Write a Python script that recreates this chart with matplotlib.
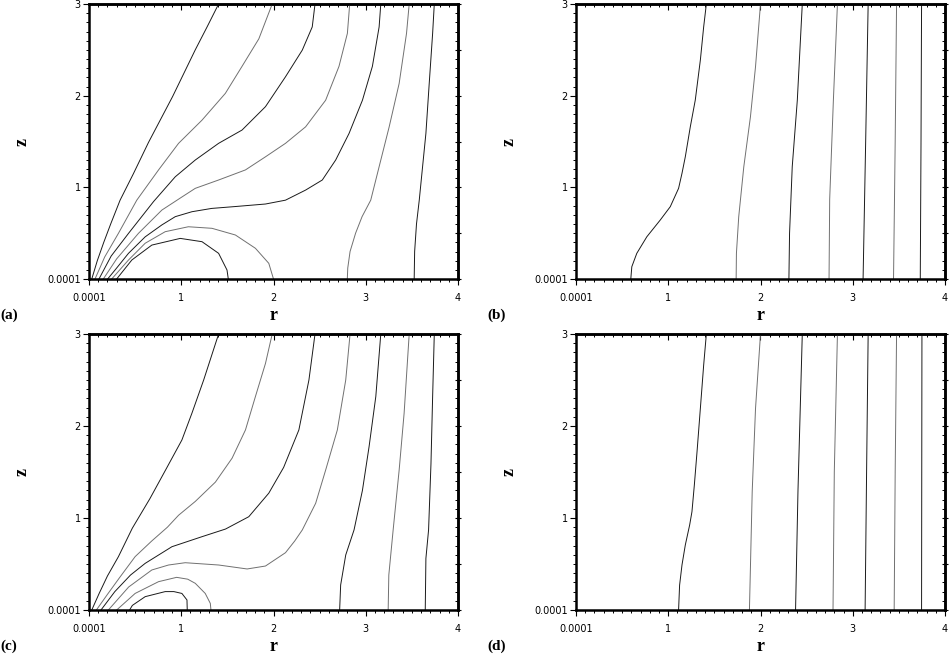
import matplotlib
matplotlib.use('Agg')
import matplotlib.pyplot as plt
from matplotlib.ticker import MultipleLocator, FuncFormatter

# ---- contour lines (r, z) ----
# panel (a)
a_r = [
    [0.03, 0.09, 0.16, 0.235, 0.337, 0.482, 0.645, 0.906, 1.152, 1.28, 1.405],
    [0.065, 0.17, 0.32, 0.518, 0.754, 0.971, 1.225, 1.478, 1.659, 1.841, 1.986],
    [0.108, 0.24, 0.43, 0.70, 0.935, 1.152, 1.405, 1.659, 1.913, 2.13, 2.312, 2.42, 2.45],
    [0.155, 0.30, 0.536, 0.79, 1.0, 1.152, 1.405, 1.696, 1.913, 2.13, 2.348, 2.565, 2.71, 2.801, 2.826],
    [0.202, 0.30, 0.428, 0.609, 0.79, 0.935, 1.116, 1.33, 1.58, 1.913, 2.13, 2.348, 2.529, 2.674,
     2.819, 2.964, 3.072, 3.145, 3.163],
    [2.80, 2.805, 2.83, 2.89, 2.96, 3.054, 3.145, 3.254, 3.362, 3.442, 3.471],
    [3.525, 3.53, 3.55, 3.58, 3.616, 3.652, 3.688, 3.725, 3.743],
    [0.246, 0.428, 0.609, 0.826, 1.077, 1.333, 1.587, 1.804, 1.949, 2.0],
    [0.30, 0.464, 0.681, 0.989, 1.225, 1.405, 1.496, 1.51],
]
a_z = [
    [0.0, 0.2, 0.4, 0.6, 0.86, 1.15, 1.49, 1.99, 2.5, 2.75, 3.0],
    [0.0, 0.24, 0.5, 0.86, 1.19, 1.48, 1.733, 2.025, 2.32, 2.62, 3.0],
    [0.0, 0.25, 0.5, 0.845, 1.115, 1.298, 1.48, 1.625, 1.88, 2.206, 2.497, 2.75, 3.0],
    [0.0, 0.22, 0.498, 0.752, 0.89, 0.989, 1.08, 1.19, 1.333, 1.48, 1.66, 1.95, 2.32, 2.68, 3.0],
    [0.0, 0.12, 0.28, 0.46, 0.59, 0.68, 0.734, 0.77, 0.79, 0.818, 0.86, 0.97, 1.08, 1.298,
     1.588, 1.95, 2.32, 2.75, 3.0],
    [0.0, 0.12, 0.3, 0.5, 0.68, 0.86, 1.225, 1.66, 2.133, 2.68, 3.0],
    [0.0, 0.3, 0.6, 0.86, 1.225, 1.588, 2.133, 2.68, 3.0],
    [0.0, 0.207, 0.39, 0.516, 0.57, 0.553, 0.48, 0.335, 0.171, 0.0],
    [0.0, 0.207, 0.37, 0.443, 0.407, 0.28, 0.098, 0.0],
]

# panel (b)
b_r = [
    [0.594, 0.605, 0.659, 0.768, 0.913, 1.022, 1.112, 1.149, 1.185, 1.239, 1.293, 1.348, 1.384, 1.413],
    [1.736, 1.739, 1.764, 1.819, 1.891, 1.946, 2.0],
    [2.308, 2.315, 2.344, 2.399, 2.453],
    [2.743, 2.75, 2.79, 2.834],
    [3.112, 3.14, 3.167],
    [3.442, 3.46, 3.475],
    [3.732, 3.74, 3.746],
]
b_z = [
    [0.0, 0.134, 0.28, 0.461, 0.643, 0.789, 0.989, 1.153, 1.334, 1.66, 1.952, 2.388, 2.751, 3.0],
    [0.0, 0.28, 0.68, 1.225, 1.77, 2.316, 3.0],
    [0.0, 0.5, 1.225, 1.95, 3.0],
    [0.0, 0.87, 1.95, 3.0],
    [0.0, 1.5, 3.0],
    [0.0, 1.5, 3.0],
    [0.0, 1.5, 3.0],
]

# panel (c)
c_r = [
    [0.03, 0.11, 0.20, 0.319, 0.47, 0.66, 0.84, 1.007, 1.116, 1.243, 1.405],
    [0.08, 0.2, 0.33, 0.5, 0.68, 0.85, 0.971, 1.152, 1.37, 1.551, 1.696, 1.804, 1.913, 1.986],
    [0.13, 0.28, 0.45, 0.609, 0.899, 1.225, 1.48, 1.732, 1.949, 2.11, 2.275, 2.384, 2.45],
    [0.21, 0.43, 0.681, 0.862, 1.043, 1.406, 1.714, 1.913, 2.13, 2.23, 2.312, 2.457, 2.565,
     2.692, 2.783, 2.83],
    [2.717, 2.728, 2.783, 2.873, 2.964, 3.036, 3.109, 3.163],
    [3.243, 3.25, 3.297, 3.362, 3.416, 3.471],
    [3.645, 3.652, 3.681, 3.707, 3.725, 3.743],
    [0.30, 0.5, 0.754, 0.95, 1.07, 1.152, 1.26, 1.315, 1.322],
    [0.44, 0.47, 0.609, 0.826, 0.92, 1.007, 1.062, 1.065],
]
c_z = [
    [0.0, 0.18, 0.37, 0.58, 0.89, 1.21, 1.54, 1.848, 2.14, 2.5, 3.0],
    [0.0, 0.17, 0.35, 0.58, 0.75, 0.9, 1.03, 1.18, 1.39, 1.65, 1.957, 2.32, 2.68, 3.0],
    [0.0, 0.2, 0.38, 0.507, 0.688, 0.797, 0.88, 1.014, 1.27, 1.55, 1.957, 2.5, 3.0],
    [0.0, 0.25, 0.435, 0.489, 0.514, 0.489, 0.446, 0.478, 0.623, 0.75, 0.87, 1.16, 1.52,
     1.957, 2.5, 3.0],
    [0.0, 0.272, 0.598, 0.87, 1.30, 1.775, 2.32, 3.0],
    [0.0, 0.38, 0.87, 1.52, 2.14, 3.0],
    [0.0, 0.56, 0.87, 1.59, 2.32, 3.0],
    [0.0, 0.18, 0.308, 0.355, 0.335, 0.29, 0.18, 0.072, 0.0],
    [0.0, 0.05, 0.145, 0.2, 0.2, 0.18, 0.109, 0.0],
]

# panel (d)
d_r = [
    [1.112, 1.123, 1.149, 1.185, 1.232, 1.257, 1.283, 1.312, 1.348, 1.384, 1.413],
    [1.88, 1.91, 1.946, 2.0],
    [2.38, 2.406, 2.453],
    [2.786, 2.80, 2.834],
    [3.134, 3.15, 3.167],
    [3.449, 3.46, 3.475],
    [3.746, 3.748, 3.75],
]
d_z = [
    [0.0, 0.27, 0.49, 0.707, 0.924, 1.069, 1.36, 1.72, 2.19, 2.663, 3.0],
    [0.0, 1.286, 2.19, 3.0],
    [0.0, 1.286, 3.0],
    [0.0, 1.5, 3.0],
    [0.0, 1.5, 3.0],
    [0.0, 1.5, 3.0],
    [0.0, 1.5, 3.0],
]

panel_tags = ['(a)', '(b)', '(c)', '(d)']
line_colors = ['#1a1a1a', '#707070']

W, H = 949, 655


def box(l, t, r, b):
    return [l / W, 1 - b / H, (r - l) / W, (b - t) / H]


def tick_fmt(v, pos):
    if abs(v) < 1e-9:
        return '0.0001'
    return '%d' % round(v)


fig = plt.figure(figsize=(W / 100, H / 100), dpi=100)

panels = [
    (a_r, a_z, box(89, 4, 458, 279)),
    (b_r, b_z, box(576, 4, 945, 279)),
    (c_r, c_z, box(89, 334, 458, 610)),
    (d_r, d_z, box(576, 334, 945, 610)),
]

for k, (rs, zs, pos) in enumerate(panels):
    ax = fig.add_axes(pos)
    for i, (r, z) in enumerate(zip(rs, zs)):
        ax.plot(r, z, color=line_colors[i % 2], linewidth=0.7)

    ax.set_xlim(0, 4)
    ax.set_ylim(0, 3)

    for sp in ax.spines.values():
        sp.set_linewidth(1.8)

    ax.xaxis.set_major_locator(MultipleLocator(1))
    ax.xaxis.set_minor_locator(MultipleLocator(0.1))
    ax.yaxis.set_major_locator(MultipleLocator(1))
    ax.yaxis.set_minor_locator(MultipleLocator(0.1))
    ax.xaxis.set_major_formatter(FuncFormatter(tick_fmt))
    ax.yaxis.set_major_formatter(FuncFormatter(tick_fmt))
    ax.tick_params(which='major', direction='out', length=4, width=0.8,
                   labelsize=7)
    ax.tick_params(which='minor', direction='out', length=2, width=0.7)
    ax.tick_params(axis='x', pad=6)
    ax.tick_params(axis='y', pad=2)

    # inward ticks on the top and right edges
    top = ax.secondary_xaxis('top')
    top.xaxis.set_major_locator(MultipleLocator(1))
    top.xaxis.set_minor_locator(MultipleLocator(0.1))
    top.tick_params(which='major', direction='in', length=4, width=0.8, labeltop=False)
    top.tick_params(which='minor', direction='in', length=2, width=0.7)
    right = ax.secondary_yaxis('right')
    right.yaxis.set_major_locator(MultipleLocator(0.5))
    right.yaxis.set_minor_locator(MultipleLocator(0.1))
    right.tick_params(which='major', direction='inout', length=5, width=0.8, labelright=False)
    right.tick_params(which='minor', direction='in', length=2, width=0.7)
    for s in (top, right):
        for sp in s.spines.values():
            sp.set_linewidth(1.8)

    # labels placed in pixel terms
    left_px = pos[0] * W
    cx = (pos[0] + pos[2] / 2) * W
    bottom_px = (1 - pos[1]) * H
    cy = (1 - pos[1] - pos[3] / 2) * H
    fig.text(cx / W, 1 - (bottom_px + 41) / H, 'r', family='Liberation Serif',
             fontweight='bold', fontsize=13, ha='center', va='baseline')
    fig.text((left_px - 66.5) / W, 1 - cy / H, 'z', family='Liberation Serif',
             fontweight='bold', fontsize=13, ha='center', va='center', rotation=90)
    fig.text((left_px - 89) / W, 1 - (bottom_px + 40) / H, panel_tags[k],
             family='Liberation Serif', fontweight='bold', fontsize=11,
             ha='left', va='baseline')

fig.savefig('out.png', dpi=100)
plt.close(fig)
